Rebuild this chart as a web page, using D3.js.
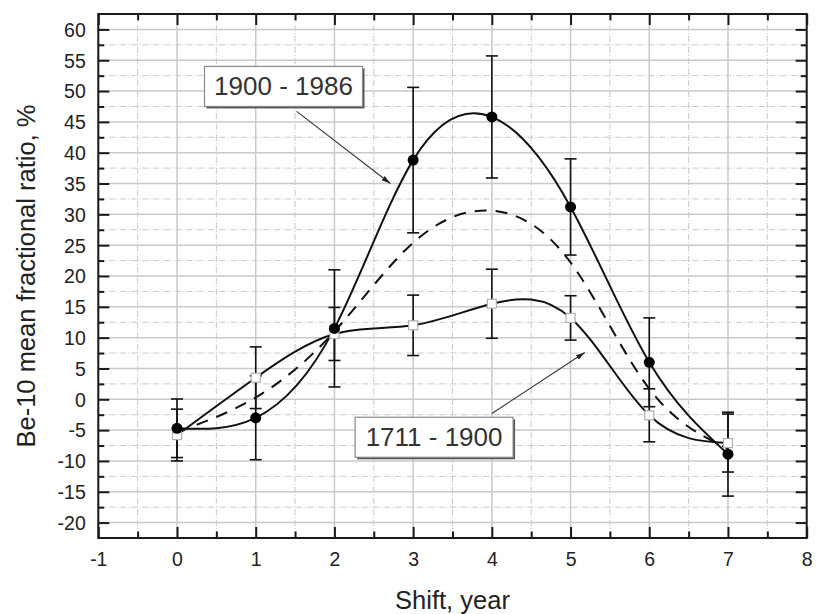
<!DOCTYPE html>
<html>
<head>
<meta charset="utf-8">
<script src="https://cdn.jsdelivr.net/npm/d3@7"></script>
<style>
  html, body { margin: 0; padding: 0; background: #fff; }
  svg { display: block; font-family: "Liberation Sans", Arial, sans-serif; }
</style>
</head>
<body>
<svg id="chart" width="816" height="614"></svg>
<script>
// Shift (years) and Be-10 mean fractional ratio (%) for the two periods
const shifts = [0, 1, 2, 3, 4, 5, 6, 7];
const ratio1900 = [-4.7, -3.0, 11.5, 38.8, 45.8, 31.2, 6.0, -8.9];
const err1900   = [4.75, 6.8, 9.5, 11.8, 9.9, 7.8, 7.2, 6.8];
const ratio1711 = [-5.8, 3.5, 10.6, 12.0, 15.5, 13.2, -2.6, -7.1];
const err1711   = [4.2, 5.0, 4.3, 4.9, 5.6, 3.6, 4.3, 4.7];
// Averaged curve (dashed)
const ratioMean = [-5.3, 0.3, 11.0, 25.4, 30.6, 22.2, 1.7, -8.0];

const xTicks = [-1, 0, 1, 2, 3, 4, 5, 6, 7, 8];
const yTicks = [-20, -15, -10, -5, 0, 5, 10, 15, 20, 25, 30, 35, 40, 45, 50, 55, 60];
const xMinor = [-0.5, 0.5, 1.5, 2.5, 3.5, 4.5, 5.5, 6.5, 7.5];
const yMinor = [-17.5, -12.5, -7.5, -2.5, 2.5, 7.5, 12.5, 17.5, 22.5, 27.5, 32.5, 37.5, 42.5, 47.5, 52.5, 57.5];

// Callout labels: box centre and arrow (from -> to), in data units
const callouts = [
  { text: "1900 - 1986", cx: 1.353, cy: 50.75, from: [1.52, 46.7], to: [2.71, 35.0] },
  { text: "1711 - 1900", cx: 3.266, cy: -6.16, from: [4.0, -2.3], to: [5.18, 7.6] }
];

const svg = d3.select("#chart");
const plotLeft = 98.3, plotRight = 806.7, plotTop = 14, plotBottom = 538;

const x = d3.scaleLinear().domain([-1, 8]).range([plotLeft, plotRight]);
const y = d3.scaleLinear().domain([-22.5, 62.5]).range([plotBottom, plotTop]);

const gridColor = "#c9c9c9";

// minor grid (dotted)
const g = svg.append("g");
g.selectAll("line.xminor").data(xMinor).join("line")
  .attr("x1", d => x(d)).attr("x2", d => x(d)).attr("y1", plotTop).attr("y2", plotBottom)
  .attr("stroke", gridColor).attr("stroke-width", 1).attr("stroke-dasharray", "6,2,1,2");
g.selectAll("line.yminor").data(yMinor).join("line")
  .attr("y1", d => y(d)).attr("y2", d => y(d)).attr("x1", plotLeft).attr("x2", plotRight)
  .attr("stroke", gridColor).attr("stroke-width", 1).attr("stroke-dasharray", "6,2,1,2");

// major grid (solid)
const g2 = svg.append("g");
g2.selectAll("line.xmajor").data(xTicks).join("line")
  .attr("x1", d => x(d)).attr("x2", d => x(d)).attr("y1", plotTop).attr("y2", plotBottom)
  .attr("stroke", gridColor).attr("stroke-width", 1.5);
const g3 = svg.append("g");
g3.selectAll("line.ymajor").data(yTicks).join("line")
  .attr("y1", d => y(d)).attr("y2", d => y(d)).attr("x1", plotLeft).attr("x2", plotRight)
  .attr("stroke", gridColor).attr("stroke-width", 1.5);

// inward ticks on all four sides
const axisColor = "#1a1a1a";
function tickAxis(axisFn, scale, values, size, transform) {
  svg.append("g").attr("transform", transform)
    .call(axisFn(scale).tickValues(values).tickSize(size).tickFormat(""))
    .call(a => a.select(".domain").remove())
    .call(a => a.selectAll("line").attr("stroke", axisColor).attr("stroke-width", 2));
}
tickAxis(d3.axisTop, x, xTicks, 11, `translate(0,${plotBottom})`);
tickAxis(d3.axisTop, x, xMinor, 6.5, `translate(0,${plotBottom})`);
tickAxis(d3.axisBottom, x, xTicks, 11, `translate(0,${plotTop})`);
tickAxis(d3.axisBottom, x, xMinor, 6.5, `translate(0,${plotTop})`);
tickAxis(d3.axisRight, y, yTicks, 11, `translate(${plotLeft},0)`);
tickAxis(d3.axisRight, y, yMinor, 6, `translate(${plotLeft},0)`);
tickAxis(d3.axisLeft, y, yTicks, 11, `translate(${plotRight},0)`);
tickAxis(d3.axisLeft, y, yMinor, 6, `translate(${plotRight},0)`);

// tick labels
const xLab = svg.append("g").attr("transform", `translate(0,${plotBottom})`)
  .call(d3.axisBottom(x).tickValues(xTicks).tickSize(0).tickPadding(0).tickFormat(d => d));
xLab.select(".domain").remove();
xLab.selectAll("text").attr("y", 27.5).attr("dy", 0)
  .attr("font-size", 19.5).attr("fill", "#222").attr("font-family", "Liberation Sans, Arial, sans-serif");

const yLab = svg.append("g").attr("transform", `translate(${plotLeft},0)`)
  .call(d3.axisLeft(y).tickValues(yTicks).tickSize(0).tickPadding(0).tickFormat(d => d));
yLab.select(".domain").remove();
yLab.selectAll("text").attr("x", -12.5).attr("dy", "0.35em")
  .attr("font-size", 19.5).attr("fill", "#222").attr("font-family", "Liberation Sans, Arial, sans-serif");

// frame
svg.append("rect").attr("x", plotLeft).attr("y", plotTop)
  .attr("width", plotRight - plotLeft).attr("height", plotBottom - plotTop)
  .attr("fill", "none").attr("stroke", axisColor).attr("stroke-width", 2);

// curves
const spline = d3.line().x(d => x(d[0])).y(d => y(d[1])).curve(d3.curveNatural);
const pts = vals => shifts.map((s, i) => [s, vals[i]]);

svg.append("path").attr("d", spline(pts(ratioMean)))
  .attr("fill", "none").attr("stroke", "#111").attr("stroke-width", 2)
  .attr("stroke-dasharray", "12,9");
svg.append("path").attr("d", spline(pts(ratio1711)))
  .attr("fill", "none").attr("stroke", "#111").attr("stroke-width", 2);
svg.append("path").attr("d", spline(pts(ratio1900)))
  .attr("fill", "none").attr("stroke", "#111").attr("stroke-width", 2);

// error bars
function errorBars(vals, errs) {
  const eg = svg.append("g").attr("stroke", "#111").attr("stroke-width", 1.6);
  shifts.forEach((s, i) => {
    const cx = x(s), y1 = y(vals[i] + errs[i]), y2 = y(vals[i] - errs[i]);
    eg.append("line").attr("x1", cx).attr("x2", cx).attr("y1", y1).attr("y2", y2);
    eg.append("line").attr("x1", cx - 6).attr("x2", cx + 6).attr("y1", y1).attr("y2", y1);
    eg.append("line").attr("x1", cx - 6).attr("x2", cx + 6).attr("y1", y2).attr("y2", y2);
  });
}
errorBars(ratio1711, err1711);
errorBars(ratio1900, err1900);

// markers: open squares (1711-1900), filled circles (1900-1986)
svg.append("g").selectAll("rect").data(pts(ratio1711)).join("rect")
  .attr("x", d => x(d[0]) - 4.5).attr("y", d => y(d[1]) - 4.5)
  .attr("width", 9).attr("height", 9)
  .attr("fill", "#fff").attr("stroke", "#b0b0b0").attr("stroke-width", 1.2);
svg.append("g").selectAll("circle").data(pts(ratio1900)).join("circle")
  .attr("cx", d => x(d[0])).attr("cy", d => y(d[1])).attr("r", 5.5)
  .attr("fill", "#000");

// callouts
svg.append("defs").append("marker")
  .attr("id", "arrowHead").attr("viewBox", "0 0 10 10")
  .attr("refX", 10).attr("refY", 5)
  .attr("markerWidth", 9).attr("markerHeight", 9)
  .attr("markerUnits", "userSpaceOnUse")
  .attr("orient", "auto")
  .append("path").attr("d", "M0,2 L10,5 L0,8 Z").attr("fill", "#222");

callouts.forEach(c => {
  svg.append("line")
    .attr("x1", x(c.from[0])).attr("y1", y(c.from[1]))
    .attr("x2", x(c.to[0])).attr("y2", y(c.to[1]))
    .attr("stroke", "#333").attr("stroke-width", 1.1)
    .attr("marker-end", "url(#arrowHead)");
  const w = 158, h = 40;
  const bx = x(c.cx) - w / 2, by = y(c.cy) - h / 2;
  svg.append("rect").attr("x", bx + 2).attr("y", by + 2).attr("width", w).attr("height", h)
    .attr("fill", "#555");
  svg.append("rect").attr("x", bx).attr("y", by).attr("width", w).attr("height", h)
    .attr("fill", "#fff").attr("stroke", "#8a8a8a").attr("stroke-width", 1.2);
  svg.append("text").attr("x", x(c.cx)).attr("y", y(c.cy) + 9)
    .attr("text-anchor", "middle").attr("font-size", 26).attr("fill", "#333")
    .text(c.text);
});

// axis titles
svg.append("text").attr("x", (plotLeft + plotRight) / 2).attr("y", 609)
  .attr("text-anchor", "middle").attr("font-size", 25.5).attr("fill", "#222")
  .text("Shift, year");
svg.append("text")
  .attr("transform", `translate(35,${(plotTop + plotBottom) / 2}) rotate(-90)`)
  .attr("text-anchor", "middle").attr("font-size", 25.5).attr("fill", "#222")
  .text("Be-10 mean fractional ratio, %");
</script>
</body>
</html>
